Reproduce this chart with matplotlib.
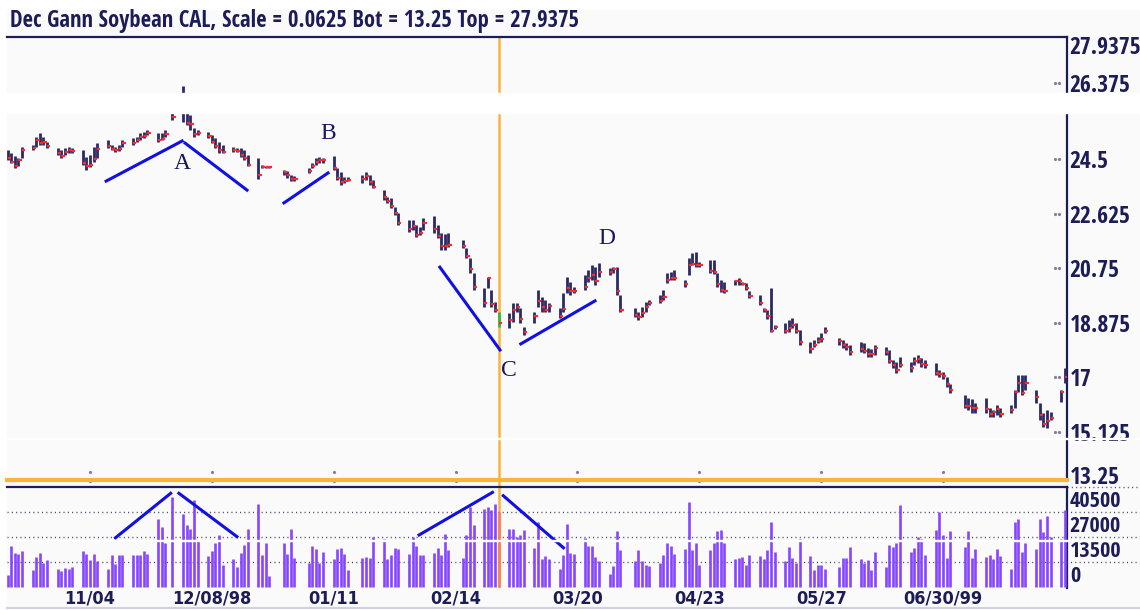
import numpy as np
import pandas as pd
import matplotlib
matplotlib.use("Agg")
import matplotlib.pyplot as plt
import matplotlib.dates as mdates
import matplotlib.transforms as mtrans
from matplotlib.patches import Rectangle
from matplotlib.lines import Line2D

title = "Dec Gann Soybean CAL, Scale = 0.0625 Bot = 13.25 Top = 27.9375"

# trading days (weekdays without exchange holidays)
holidays = ["1998-11-26", "1998-12-25", "1999-01-01", "1999-01-18",
            "1999-02-15", "1999-04-02", "1999-05-31", "1999-07-05"]
days = pd.bdate_range("1998-10-12", "1999-08-03")
days = days[~days.isin(pd.to_datetime(holidays))]

# one line per week
high = [
    24.81, 24.71, 24.60, 24.53, 24.91,
    24.98, 25.26, 25.40, 25.26, 25.08,
    24.88, 24.81, 24.88, 24.91, 24.88,
    24.81, 24.57, 24.64, 24.91, 25.05,
    25.15, 24.98, 24.91, 24.98, 25.15,
    25.22, 25.26, 25.40, 25.43, 25.50,
    25.40, 25.40, 25.50, 26.30,
    27.00, 26.08, 26.01, 25.57, 25.50,
    25.43, 25.33, 25.22, 25.08, 24.98,
    24.91, 24.88, 24.88, 24.81, 24.64,
    24.53, 24.29, 24.26, 24.26,
    24.12, 24.09, 23.95, 23.92,
    24.19, 24.36, 24.53, 24.57, 24.53,
    24.60, 24.19, 24.05, 23.88, 23.88,
    23.95, 24.05, 23.95, 23.78,
    23.43, 23.19, 23.16, 22.85, 22.64,
    22.40, 22.40, 22.23, 22.16, 22.47,
    22.54, 22.23, 21.96, 21.92, 21.96,
    21.71, 21.44, 21.10, 20.58,
    20.06, 20.44, 19.99, 19.58, 19.24,
    19.20, 19.54, 19.54, 19.38, 18.72,
    19.24, 19.99, 19.75, 19.65, 19.54,
    19.38, 19.89, 20.44, 20.27, 20.10,
    20.51, 20.68, 20.85, 20.78, 20.92,
    20.75, 20.78, 20.78, 19.82,
    19.38, 19.24, 19.41, 19.58, 19.65,
    19.82, 19.99, 20.58, 20.61, 20.68,
    20.34, 21.10, 21.27, 21.30, 20.96,
    21.03, 21.03, 20.58, 20.34, 20.27,
    20.34, 20.40, 20.27, 20.23, 19.96,
    19.82, 19.38, 19.31, 20.06, 18.79,
    18.86, 18.96, 19.03, 18.86, 18.62,
    18.20, 18.27, 18.38, 18.51, 18.72,
    18.34, 18.27, 18.17, 18.10,
    18.20, 18.17, 18.00, 17.96, 18.10,
    18.03, 17.93, 17.58, 17.52, 17.69,
    17.52, 17.69, 17.76, 17.65, 17.58,
    17.48, 17.24, 17.17, 17.00, 16.76,
    16.38, 16.28, 16.24, 16.10,
    16.28, 15.93, 15.86, 16.03, 15.93,
    16.03, 16.55, 17.07, 17.07, 17.07,
    16.55, 16.10, 15.76, 15.86, 15.79,
    16.55, 17.30,
]
low = [
    24.47, 24.36, 24.19, 24.26, 24.53,
    24.81, 24.91, 24.98, 24.98, 24.88,
    24.64, 24.53, 24.64, 24.71, 24.71,
    24.29, 24.12, 24.22, 24.40, 24.53,
    24.88, 24.81, 24.74, 24.78, 24.91,
    24.98, 25.08, 25.15, 25.22, 25.33,
    25.08, 25.15, 25.26, 25.84,
    25.77, 25.67, 25.50, 25.26, 25.33,
    25.22, 25.05, 24.88, 24.71, 24.71,
    24.74, 24.74, 24.57, 24.47, 24.26,
    23.81, 24.19, 24.19, 24.19,
    23.95, 23.85, 23.74, 23.74,
    24.02, 24.19, 24.29, 24.36, 24.36,
    24.12, 23.78, 23.61, 23.68, 23.74,
    23.68, 23.78, 23.61, 23.50,
    23.09, 22.99, 22.82, 22.57, 22.23,
    21.99, 22.06, 21.82, 21.89, 22.06,
    21.96, 21.78, 21.37, 21.37, 21.47,
    21.44, 21.10, 20.58, 19.99,
    19.40, 20.06, 19.40, 19.24, 18.72,
    18.69, 18.89, 19.24, 18.86, 18.45,
    18.86, 19.40, 19.24, 19.24, 19.24,
    19.03, 19.24, 19.89, 19.82, 19.89,
    19.99, 20.27, 20.34, 20.17, 20.44,
    20.51, 20.58, 19.82, 19.24,
    19.07, 18.96, 19.07, 19.24, 19.48,
    19.54, 19.65, 20.23, 20.34, 20.34,
    20.10, 20.51, 20.85, 20.78, 20.78,
    20.58, 20.54, 20.10, 19.92, 19.89,
    20.17, 20.17, 20.17, 19.99, 19.72,
    19.48, 19.24, 19.00, 18.55, 18.65,
    18.51, 18.55, 18.69, 18.51, 18.10,
    17.83, 18.03, 18.17, 18.20, 18.51,
    18.10, 18.00, 17.93, 17.76,
    17.86, 17.83, 17.69, 17.69, 17.76,
    17.76, 17.48, 17.31, 17.14, 17.34,
    17.17, 17.41, 17.48, 17.34, 17.31,
    17.07, 17.00, 16.93, 16.66, 16.45,
    15.93, 15.86, 15.76, 15.76,
    15.76, 15.62, 15.62, 15.69, 15.62,
    15.76, 15.93, 16.48, 16.38, 16.55,
    16.10, 15.52, 15.28, 15.24, 15.52,
    16.14, 16.80,
]
close = [
    24.55, 24.40, 24.26, 24.45, 24.80,
    24.88, 25.15, 25.05, 25.10, 24.95,
    24.70, 24.60, 24.75, 24.80, 24.78,
    24.35, 24.25, 24.30, 24.50, 24.85,
    24.95, 24.85, 24.80, 24.85, 25.05,
    25.05, 25.15, 25.25, 25.30, 25.40,
    25.15, 25.20, 25.35, 25.95,
    26.60, 25.75, 25.70, 25.35, 25.40,
    25.30, 25.10, 24.95, 24.80, 24.75,
    24.80, 24.78, 24.65, 24.55, 24.30,
    23.95, 24.22, 24.22, 24.22,
    24.05, 23.95, 23.80, 23.80,
    24.10, 24.25, 24.40, 24.45, 24.45,
    24.20, 23.85, 23.70, 23.75, 23.78,
    23.80, 23.90, 23.70, 23.55,
    23.20, 23.05, 22.90, 22.65, 22.30,
    22.10, 22.20, 21.90, 21.95, 22.30,
    22.10, 21.85, 21.50, 21.50, 21.55,
    21.50, 21.15, 20.70, 20.10,
    19.55, 20.40, 19.50, 19.30, 18.85,
    18.95, 19.30, 19.40, 19.00, 18.55,
    19.10, 19.60, 19.40, 19.30, 19.45,
    19.10, 19.35, 20.05, 19.95, 19.95,
    20.10, 20.40, 20.50, 20.30, 20.60,
    20.60, 20.70, 19.95, 19.30,
    19.15, 19.05, 19.20, 19.40, 19.55,
    19.60, 19.75, 20.35, 20.40, 20.40,
    20.20, 20.85, 20.90, 20.85, 20.85,
    20.65, 20.60, 20.20, 20.00, 19.95,
    20.30, 20.30, 20.20, 20.05, 19.80,
    19.55, 19.30, 19.10, 18.60, 18.72,
    18.60, 18.70, 18.80, 18.60, 18.20,
    17.95, 18.10, 18.25, 18.30, 18.60,
    18.25, 18.10, 18.05, 17.85,
    17.95, 17.90, 17.80, 17.80, 18.00,
    17.85, 17.55, 17.40, 17.25, 17.40,
    17.30, 17.55, 17.62, 17.45, 17.40,
    17.15, 17.10, 17.05, 16.75, 16.55,
    16.00, 16.00, 15.95, 15.95,
    15.90, 15.72, 15.80, 15.90, 15.72,
    15.85, 16.50, 16.80, 16.45, 16.80,
    16.30, 15.70, 15.40, 15.50, 15.60,
    16.50, 17.00,
]
volume = [
    6700, 22000, 18500, 18000, 19600,
    9000, 16200, 18500, 13000, 14400,
    10000, 8500, 10300, 9500, 10800,
    19600, 18000, 14800, 18000, 13900,
    9900, 17100, 12600, 17100, 17100,
    17100, 17100, 17100, 19600, 18000,
    36900, 32400, 23900, 48600,
    39600, 33300, 31500, 46800, 25000,
    17000, 19400, 24000, 27900, 12000,
    15000, 10800, 18500, 22900, 31500,
    45000, 17100, 24000, 5900,
    24000, 18000, 31500, 15700,
    13100, 22100, 20700, 13100, 18900,
    15000, 20700, 21100, 18000, 9000,
    15700, 16200, 15700, 27000,
    26100, 15000, 17100, 21100, 20300,
    18000, 27000, 22100, 17100, 17100,
    18500, 21100, 17100, 28800, 19800,
    15700, 27900, 43200, 33300,
    42300, 43200, 41400, 45000, 40500,
    31500, 31500, 27000, 28300, 30600,
    21000, 35000, 15000, 16500, 15000,
    9900, 17100, 34200, 18500, 18000,
    26500, 22100, 22100, 16200, 13900,
    7200, 11300, 30000, 19800,
    13900, 19800, 13900, 12000, 11300,
    13100, 17100, 24000, 22100, 18000,
    20700, 45900, 19800, 24000, 12000,
    19800, 24000, 30000, 31000, 24000,
    15000, 15700, 16200, 12000, 17100,
    16600, 15000, 19800, 35000, 18900,
    13900, 21400, 15700, 13100, 26100,
    16600, 9000, 12000, 12000, 9900,
    10800, 15700, 15700, 21600,
    15000, 13100, 14400, 9000, 18900,
    10800, 22900, 21400, 24000, 44100,
    18900, 21100, 27000, 26100, 17500,
    31000, 40500, 28300, 15700, 30000,
    21600, 30000, 15700, 20300,
    16200, 17100, 15000, 20700, 16600,
    9900, 35000, 36900, 18900, 24000,
    20300, 36900, 29700, 38300, 27000,
    26100, 41400,
]

cursor_day = "1999-02-26"

price_ticks = [28.42, 27.11, 24.5, 22.625, 20.75, 18.875, 17.0, 15.125, 13.63]
price_labels = ["27.9375", "26.375", "24.5", "22.625", "20.75",
                "18.875", "17", "15.125", "13.25"]
vol_ticks = [0, 13500, 27000, 40500]
date_ticks = ["1998-11-04", "1998-12-08", "1999-01-11", "1999-02-14",
              "1999-03-20", "1999-04-23", "1999-05-27", "1999-06-30"]
date_labels = ["11/04", "12/08/98", "01/11", "02/14",
               "03/20", "04/23", "05/27", "06/30/99"]

# hand drawn trend lines: (days from first bar, value)
price_lines = [((27.5, 23.74), (48.7, 25.12)),
               ((49.5, 25.05), (66.8, 23.43)),
               ((77.1, 22.99), (89.4, 24.02)),
               ((120.6, 20.78), (137.4, 17.93)),
               ((143.2, 18.14), (163.9, 19.62))]
letters = [("A", 48.7, 24.36), ("B", 89.4, 25.39),
           ("C", 140.0, 17.24), ("D", 167.2, 21.78)]
vol_lines = [((30.1, 26600), (45.5, 50600)),
             ((47.8, 50600), (64.0, 27200)),
             ((114.8, 28100), (135.3, 51100)),
             ((138.3, 49300), (155.1, 21200))]

navy = "#1c1c58"
bar_col = "#2a2a66"
orange = "#f7b53c"
narrow = ["Open Sans Condensed", "DejaVu Sans"]

x = mdates.date2num(days)
t0 = x[0]
xc = mdates.date2num(pd.Timestamp(cursor_day))

W, H = 1140, 610
fig = plt.figure(figsize=(W / 100, H / 100), dpi=100, facecolor="white")
fig.add_artist(Rectangle((7 / W, 1 - 608 / H), 1, 598 / H, transform=fig.transFigure,
                         color="#fafafa", zorder=-5))

ax = fig.add_axes([7 / W, 1 - 480 / H, 1060 / W, 443 / H])
axv = fig.add_axes([7 / W, 1 - 588 / H, 1060 / W, 101 / H])
for a in (ax, axv):
    a.set_facecolor("#fafafa")
    a.set_xlim(t0 - 0.17, t0 + 295.6)
    a.spines["left"].set_visible(False)
    a.spines["top"].set_color(navy)
    a.spines["top"].set_linewidth(1.6)
    a.spines["right"].set_color(navy)
    a.spines["right"].set_linewidth(1.6)
ax.spines["bottom"].set_color(orange)
ax.spines["bottom"].set_linewidth(3)
axv.spines["bottom"].set_visible(False)

ax.set_ylim(13.458, 28.697)
axv.set_ylim(-500, 54000)

# price bars
ax.axvline(xc, color=orange, lw=1.8, ymin=-0.02, clip_on=False, zorder=1)
cols = [("#3cb43c" if d == xc else bar_col) for d in x]
ax.vlines(x, low, high, colors=cols, lw=2.0, zorder=3)
ax.hlines(close, x, x + 0.9, colors="#ff2a2a", lw=1.6, zorder=4)

# volume bars
axv.axvline(xc, color=orange, lw=1.8, zorder=1)
vcols = [("#ff7f4a" if d == xc else "#8646ff") for d in x]
axv.vlines(x, 0, volume, colors=vcols, lw=1.9, zorder=3)
for v in vol_ticks[1:]:
    axv.axhline(v, xmax=1.07, clip_on=False, color="#4a4a70", lw=1,
                ls=(0, (0.8, 2.3)), zorder=2)
axv.axhline(54000, xmin=1.0, xmax=1.07, clip_on=False, color="#4a4a70", lw=1,
            ls=(0, (0.8, 2.3)))

# trend lines and letters
for (d1, p1), (d2, p2) in price_lines:
    ax.plot([t0 + d1, t0 + d2], [p1, p2], color="#1010e6", lw=2.2, zorder=5)
for s, d, p in letters:
    ax.text(t0 + d, p, s, ha="center", va="center", fontsize=17,
            family=["Liberation Serif", "DejaVu Serif"], color="#181860", zorder=6)
for (d1, v1), (d2, v2) in vol_lines:
    axv.plot([t0 + d1, t0 + d2], [v1, v2], color="#1010e6", lw=2.2, zorder=5,
             clip_on=False)

# axes labels
ax.yaxis.tick_right()
ax.set_yticks(price_ticks)
ax.set_yticklabels(price_labels)
ax.tick_params(axis="y", length=0, pad=2, labelsize=17, labelcolor=navy)
for t in ax.get_yticklabels():
    t.set_family(narrow)
    t.set_fontweight("bold")
ax.set_xticks([])
dotx = mtrans.blended_transform_factory(ax.transAxes, ax.transData)
for p in price_ticks[1:-1]:
    ax.plot([0.9885, 0.9925], [p, p], ls="none", marker="o", ms=1.3,
            color="#8080a0", transform=dotx)
tick_x = mdates.date2num(pd.to_datetime(date_ticks))
doty = mtrans.blended_transform_factory(ax.transData, ax.transAxes)
ax.plot(np.repeat(tick_x, 2), [0.018, -0.002] * len(tick_x), ls="none",
        marker="o", ms=1.3, color="#8080a0", transform=doty, clip_on=False)

axv.yaxis.tick_right()
axv.set_yticks(vol_ticks)
axv.set_yticklabels([str(v) for v in vol_ticks])
axv.tick_params(axis="y", length=0, pad=2, labelsize=16, labelcolor=navy)
for t in axv.get_yticklabels():
    t.set_family(narrow)
    t.set_fontweight("bold")
    t.set_verticalalignment("bottom")
axv.set_xticks(tick_x)
axv.set_xticklabels(date_labels)
axv.tick_params(axis="x", length=0, pad=1, labelsize=13, labelcolor=navy)
for t in axv.get_xticklabels():
    t.set_family("DejaVu Sans")
    t.set_stretch("condensed")
    t.set_fontweight("bold")

fig.text(10 / W, 1 - 21 / H, title, ha="left", va="center", fontsize=16.3,
         fontweight="bold", family=narrow, color=navy)

# image cut bands
fig.add_artist(Rectangle((0, 1 - 113 / H), 1, 20 / H, transform=fig.transFigure,
                         color="white", zorder=10))
fig.add_artist(Rectangle((0, 1 - 439 / H), 1, 1.5 / H, transform=fig.transFigure,
                         color="white", zorder=10))
fig.add_artist(Rectangle((0, 1 - 541 / H), 1, 1.5 / H, transform=fig.transFigure,
                         color="white", zorder=10))
fig.add_artist(Line2D([7 / W, 1], [1 - 608 / H] * 2, color="#cfd0e6", lw=1.5))

fig.savefig("out.png", dpi=100, facecolor="white")
